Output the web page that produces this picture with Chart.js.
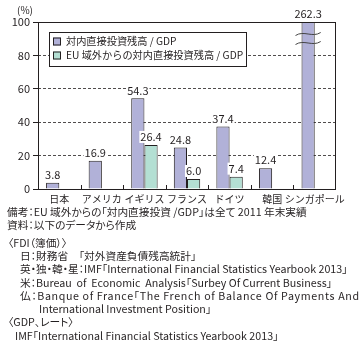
<!DOCTYPE html>
<html>
<head>
<meta charset="utf-8">
<script src="https://cdn.jsdelivr.net/npm/chart.js@4.4.0/dist/chart.umd.min.js"></script>
<style>
  body { margin: 0; background: #fff; width: 364px; height: 358px; overflow: hidden; }
  #wrap { position: relative; width: 364px; height: 206px; }
  canvas { display: block; }
  .note {
    position: absolute; white-space: pre; font-size: 10.7px; line-height: 12px;
    font-family: "Noto Sans CJK JP", "Noto Sans", sans-serif; color: #231f20;
    font-feature-settings: "palt";
  }
</style>
</head>
<body>
<div id="wrap"><canvas id="chart" width="364" height="206"></canvas></div>
<div class="note" style="left:7px;top:206px">備考：EU 域外からの「対内直接投資 /GDP」は全て 2011 年末実績</div>
<div class="note" style="left:7px;top:219px">資料：以下のデータから作成</div>
<div class="note" style="left:8px;top:237px">〈FDI（簿価）〉</div>
<div class="note" style="left:20px;top:250px">日：財務省　「対外資産負債残高統計」</div>
<div class="note" style="left:20px;top:263px">英・独・韓・星：IMF「International Financial Statistics Yearbook 2013」</div>
<div class="note" style="left:20px;top:277px">米：Bureau  of  Economic  Analysis「Surbey Of Current Business」</div>
<div class="note" style="left:20px;top:290px;letter-spacing:0.62px">仏：Banque of France「The French of Balance Of Payments And</div>
<div class="note" style="left:39px;top:303px">International Investment Position」</div>
<div class="note" style="left:8px;top:316px">〈GDP、レート〉</div>
<div class="note" style="left:15px;top:330px">IMF「International Financial Statistics Yearbook 2013」</div>
<script>
// data
const categories = ['日本', 'アメリカ', 'イギリス', 'フランス', 'ドイツ', '韓国', 'シンガポール'];
const fdiStockToGdp = [3.8, 16.9, 54.3, 24.8, 37.4, 12.4, 262.3];
const nonEuFdiStockToGdp = [null, null, 26.4, 6.0, 7.4, null, null];
const seriesNames = ['対内直接投資残高 / GDP', 'EU 域外からの対内直接投資残高 / GDP'];
const yMin = 0, yMax = 100, yStep = 20;
const yUnit = '(%)';

const FONT = "'Noto Sans CJK JP', 'Noto Sans', sans-serif";
const INK = '#231f20';
const colors = ['#b1b1d8', '#b3dfd3'];

// frame, x tick marks, value labels, axis break, legend
const decor = {
  id: 'decor',
  afterDatasetsDraw(chart) {
    const { ctx, chartArea: a, scales: { x } } = chart;
    ctx.save();
    ctx.strokeStyle = INK;
    ctx.lineWidth = 1;
    ctx.setLineDash([]);
    ctx.strokeRect(a.left + 0.5, a.top + 0.5, a.right - a.left - 1, a.bottom - a.top);

    // small inward ticks between categories
    for (let i = 1; i < categories.length; i++) {
      const px = Math.round((x.getPixelForValue(i - 1) + x.getPixelForValue(i)) / 2) + 0.5;
      ctx.beginPath();
      ctx.moveTo(px, a.bottom);
      ctx.lineTo(px, a.bottom - 4);
      ctx.stroke();
    }

    // value labels
    ctx.font = '11px ' + FONT;
    ctx.textAlign = 'center';
    ctx.textBaseline = 'middle';
    chart.data.datasets.forEach((ds, di) => {
      const meta = chart.getDatasetMeta(di);
      meta.data.forEach((bar, i) => {
        const v = ds.data[i];
        if (v == null) return;
        const top = Math.max(bar.y, a.top);
        const txt = v.toFixed(1);
        const w = ctx.measureText(txt).width;
        const cy = top - 8;
        ctx.fillStyle = '#fff';
        ctx.fillRect(bar.x - w / 2 - 1, cy - 6, w + 2, 12);
        ctx.fillStyle = INK;
        ctx.fillText(txt, bar.x, cy);

        // break mark for bars running off the scale
        if (v > yMax) {
          const x0 = bar.x - bar.width / 2 - 6, x1 = bar.x + bar.width / 2 + 6;
          ctx.strokeStyle = '#444';
          [a.top + 12, a.top + 21].forEach(yy => {
            ctx.beginPath();
            ctx.moveTo(x0, yy + 1.5);
            ctx.bezierCurveTo(x0 + (x1 - x0) / 3, yy - 4, x0 + 2 * (x1 - x0) / 3, yy + 4, x1, yy - 1.5);
            ctx.stroke();
          });
          ctx.strokeStyle = INK;
        }
      });
    });

    // unit
    ctx.font = '10px ' + FONT;
    ctx.textAlign = 'left';
    ctx.fillText(yUnit, 17, 10);

    // legend
    const lx = 49, ly = 32, lw = 197, lh = 34;
    ctx.fillStyle = '#fff';
    ctx.fillRect(lx, ly, lw, lh);
    ctx.strokeRect(lx + 0.5, ly + 0.5, lw, lh);
    ctx.font = '10.2px ' + FONT;
    seriesNames.forEach((name, i) => {
      const cy = ly + 9.5 + i * 14;
      ctx.fillStyle = colors[i];
      ctx.fillRect(53, cy - 4, 8, 8);
      ctx.strokeRect(53.5, cy - 3.5, 7, 7);
      ctx.fillStyle = INK;
      ctx.fillText(name, 66, cy);
    });
    ctx.restore();
  }
};

new Chart(document.getElementById('chart'), {
  type: 'bar',
  data: {
    labels: categories,
    datasets: [
      {
        label: seriesNames[0],
        data: fdiStockToGdp,
        backgroundColor: colors[0],
        borderColor: INK,
        borderWidth: 1,
        barPercentage: 1,
        categoryPercentage: 0.62,
      },
      {
        label: seriesNames[1],
        data: nonEuFdiStockToGdp,
        backgroundColor: colors[1],
        borderColor: INK,
        borderWidth: 1,
        barPercentage: 1,
        categoryPercentage: 0.62,
      },
    ],
  },
  options: {
    responsive: false,
    animation: false,
    layout: { padding: { top: 22, right: 28, left: 0, bottom: 0 } },
    plugins: { legend: { display: false }, tooltip: { enabled: false } },
    scales: {
      x: {
        grid: { display: false, drawTicks: false },
        border: { display: false },
        ticks: { color: INK, font: { family: FONT, size: 10 }, padding: 4, maxRotation: 0, autoSkip: false },
        afterFit: s => { s.height = 17; },
      },
      y: {
        min: yMin,
        max: yMax,
        ticks: { stepSize: yStep, color: INK, font: { family: FONT, size: 11 }, padding: 3 },
        grid: { color: INK, lineWidth: 0.8, tickLength: 5, tickBorderDash: [], tickWidth: 1 },
        border: { display: false, dash: [3, 2] },
        afterFit: s => { s.width = 38; },
      },
    },
  },
  plugins: [decor],
});
</script>
</body>
</html>
